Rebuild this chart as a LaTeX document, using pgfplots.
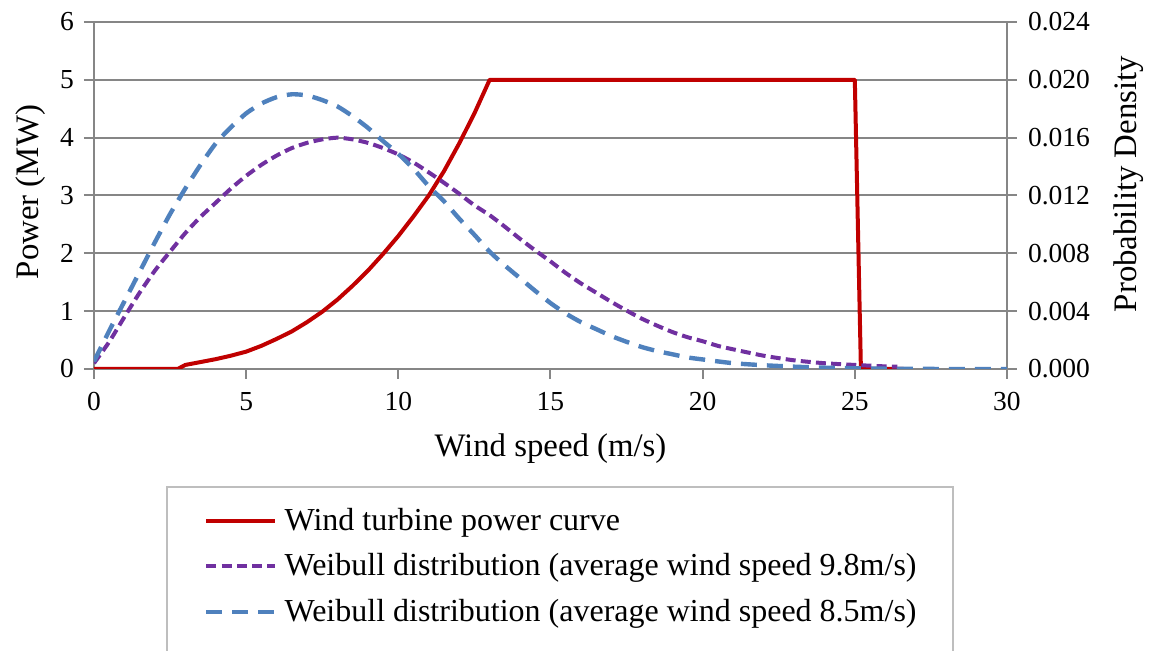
\documentclass[border=0pt]{standalone}
\usepackage{fontspec}
\setmainfont{Liberation Serif}
\usepackage{pgfplots}
\pgfplotsset{compat=1.18}
\definecolor{cRed}{RGB}{192,0,0}
\definecolor{cPurple}{RGB}{112,48,160}
\definecolor{cBlue}{RGB}{79,129,189}
\definecolor{cGrid}{RGB}{134,134,134}
\definecolor{cLeg}{RGB}{190,190,190}
\pgfplotsset{
  common/.style={
    scale only axis, width=456.5pt, height=173.5pt,
    at={(0,0)}, anchor=south west,
    xmin=0, xmax=30,
    tick align=outside, major tick length=5pt,
    axis line style={draw=cGrid, line width=1pt, -},
    tick style={draw=cGrid, line width=1pt},
    ticklabel style={font=\fontsize{13.75}{16}\selectfont},
    /pgf/number format/assume math mode=true,
    label style={font=\fontsize{16.4}{19}\selectfont},
  },
  redline/.style={draw=cRed, line width=2pt},
  purpleline/.style={draw=cPurple, line width=2pt, dash pattern=on 5pt off 2.6pt},
  blueline/.style={draw=cBlue, line width=2.2pt, dash pattern=on 8pt off 5pt},
}
\begin{document}
\begin{tikzpicture}
\begin{axis}[common,
  axis x line*=bottom, axis y line*=left,
  ymin=0, ymax=6,
  xtick={0,5,10,15,20,25,30},
  ytick={0,1,2,3,4,5,6},
  xticklabel style={yshift=-3pt},
  yticklabel style={xshift=-1.5pt},
  ymajorgrids, grid style={draw=cGrid, line width=1pt},
  xlabel={Wind speed (m/s)},
  ylabel={Power (MW)},
  xlabel style={at={(axis description cs:0.5,-0.2536)}, anchor=base},
  ylabel style={at={(axis description cs:-0.069,0.51)}, anchor=center, rotate=0},
]
\addplot[redline, line join=round] table {
x y
0 0
2.75 0
3 0.07
3.5 0.12
4 0.17
4.5 0.23
5 0.3
5.5 0.4
6 0.52
6.5 0.65
7 0.81
7.5 0.99
8 1.2
8.5 1.44
9 1.7
9.5 1.99
10 2.3
10.5 2.64
11 3.0
11.5 3.42
12 3.9
12.5 4.42
13 5
25 5
25.2 0
26.6 0
};
\end{axis}
\begin{axis}[common,
  axis x line=none, axis y line*=right,
  ymin=0, ymax=0.024,
  ytick={0,0.004,0.008,0.012,0.016,0.02,0.024},
  scaled y ticks=false,
  yticklabel style={xshift=2pt, /pgf/number format/.cd, fixed, fixed zerofill, precision=3},
  ylabel={Probability Density},
  ylabel style={at={(axis description cs:1.1336,0.533)}, anchor=center, rotate=0},
  legend cell align=left,
  legend image code/.code={\path[draw=none,fill=none] (-4pt,-5.6pt) rectangle (0pt,0pt); \draw[#1] (0pt,0pt) -- (34.5pt,0pt);},
  legend style={at={(axis description cs:0.08325,-0.34006)}, anchor=north west,
    draw=none, fill=none,
    inner xsep=14pt, inner ysep=8.3pt, row sep=6.25pt,
    nodes={inner sep=2pt},
    font=\fontsize{16}{19}\selectfont},
]
\addlegendimage{redline}
\addlegendentry{\hspace*{1.5pt}\rule[-4pt]{0pt}{15pt}Wind turbine power curve}
\addplot[purpleline, smooth, tension=0.4] table {
x y
0 0.0004
0.5 0.00188
1 0.0036
1.5 0.00528
2 0.0068
2.5 0.00812
3 0.0094
3.5 0.01052
4 0.0115
4.5 0.01248
5 0.01336
5.5 0.01412
6 0.01476
6.5 0.01528
7 0.01564
7.5 0.01588
8 0.016
8.5 0.01588
9 0.01564
9.5 0.01528
10 0.01484
10.5 0.01428
11 0.0136
11.5 0.01288
12 0.01212
12.5 0.01132
13 0.01064
13.5 0.00984
14 0.009
14.5 0.0082
15 0.00744
15.5 0.00664
16 0.00592
16.5 0.00528
17 0.00464
17.5 0.00404
18 0.00348
18.5 0.003
19 0.00256
19.5 0.0022
20 0.00192
20.5 0.0016
21 0.00136
22 0.00092
23 0.0006
24 0.0004
25 0.00028
26 0.00018
26.4 0.00016
};
\addlegendentry{\hspace*{1.5pt}\rule[-4pt]{0pt}{15pt}Weibull distribution (average wind speed 9.8m/s)}
\addplot[blueline, smooth, tension=0.4] table {
x y
0 0.00052
0.5 0.00264
1 0.00468
1.5 0.00672
2 0.00876
2.5 0.01072
3 0.01248
3.5 0.01412
4 0.0156
4.5 0.01672
5 0.01768
5.5 0.01836
6 0.0188
6.5 0.019
7 0.01892
7.5 0.0186
8 0.01816
8.5 0.01748
9 0.01668
9.5 0.01576
10 0.01488
10.5 0.01384
11 0.01264
11.5 0.0116
12 0.0104
12.5 0.00928
13 0.00812
13.5 0.00716
14 0.00628
14.5 0.0054
15 0.00456
15.5 0.00384
16 0.00324
16.5 0.00276
17 0.00228
17.5 0.00188
18 0.00152
18.5 0.00124
19 0.00102
19.5 0.0008
20 0.00066
21 0.0004
22 0.00026
23 0.00016
24 0.00009
25 0.00005
26 0.00002
27 0.00001
28 0
30 0
};
\addlegendentry{\hspace*{1.5pt}\rule[-4pt]{0pt}{15pt}Weibull distribution (average wind speed 8.5m/s)}
\end{axis}
\draw[cLeg, line width=1pt] (36.5pt,-59pt) rectangle (429.5pt,-165pt);
\pgfresetboundingbox
\path[use as bounding box] (-47pt,-141pt) rectangle (529.5pt,184.5pt);
\end{tikzpicture}
\end{document}
